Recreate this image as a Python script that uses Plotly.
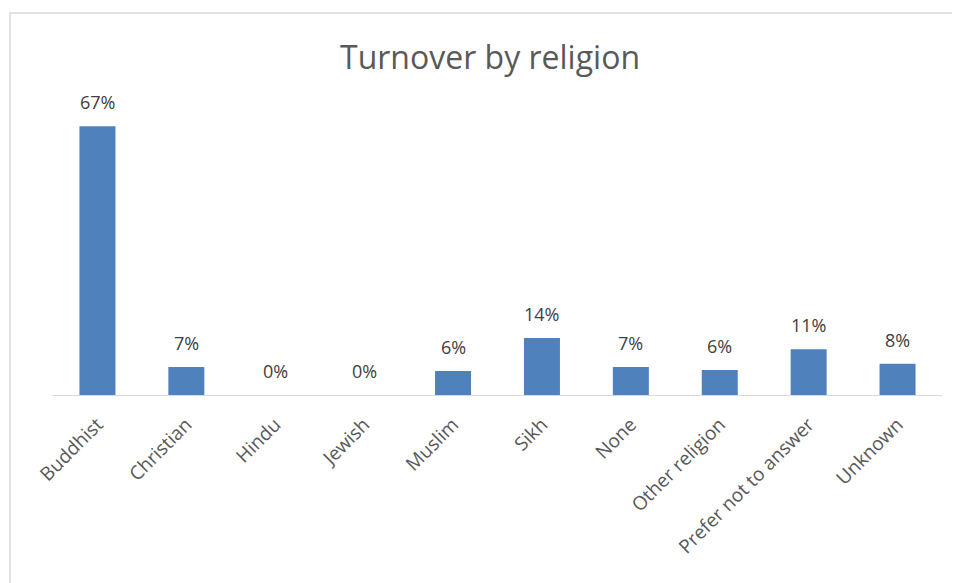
import plotly.graph_objects as go

categories = ["Buddhist", "Christian", "Hindu", "Jewish", "Muslim", "Sikh", "None",
              "Other religion", "Prefer not to answer", "Unknown"]
turnover = [0.67, 0.07, 0.0, 0.0, 0.06, 0.142, 0.07, 0.062, 0.114, 0.078]

OFF = 8  # page body margin
W, H = 960 - OFF, 583 - OFF
L, R = 53 - OFF, 18
T = 74 - OFF
B = 188
pw, ph = W - L - R, H - T - B
FONT = "Open Sans, Noto Sans, sans-serif"

fig = go.Figure(go.Bar(
    x=categories, y=turnover,
    marker=dict(color="#4F81BD", line=dict(width=0)),
    width=0.405,
))

for c, v in zip(categories, turnover):
    fig.add_annotation(x=c, y=v, text=f"{round(v * 100):.0f}%", showarrow=False,
                       yanchor="bottom", yshift=10,
                       font=dict(family=FONT, size=18, color="#404040"))

fig.update_layout(
    width=W, height=H,
    margin=dict(l=L, r=R, t=T, b=B),
    paper_bgcolor="white", plot_bgcolor="white",
    showlegend=False,
    title=dict(text="Turnover by religion", x=(490 - 53) / pw, xref="paper", xanchor="center",
               y=1 - (58 - OFF) / H, yanchor="middle",
               font=dict(family=FONT, size=32, color="#595959")),
    xaxis=dict(tickangle=-45, showline=True, linecolor="#D9D9D9", linewidth=1,
               ticks="", showgrid=False, ticklabelstandoff=10,
               tickfont=dict(family=FONT, size=19, color="#595959")),
    yaxis=dict(range=[0, 0.8], visible=False, showgrid=False, zeroline=False),
    shapes=[dict(type="rect", xref="paper", yref="paper",
                 x0=(10 - 53) / pw, x1=(975 - 53) / pw,
                 y0=(395 - 600) / ph, y1=(395 - 13) / ph,
                 line=dict(color="#D9D9D9", width=1.5), fillcolor="rgba(0,0,0,0)", layer="below")],
)

fig.write_html("out.html")
